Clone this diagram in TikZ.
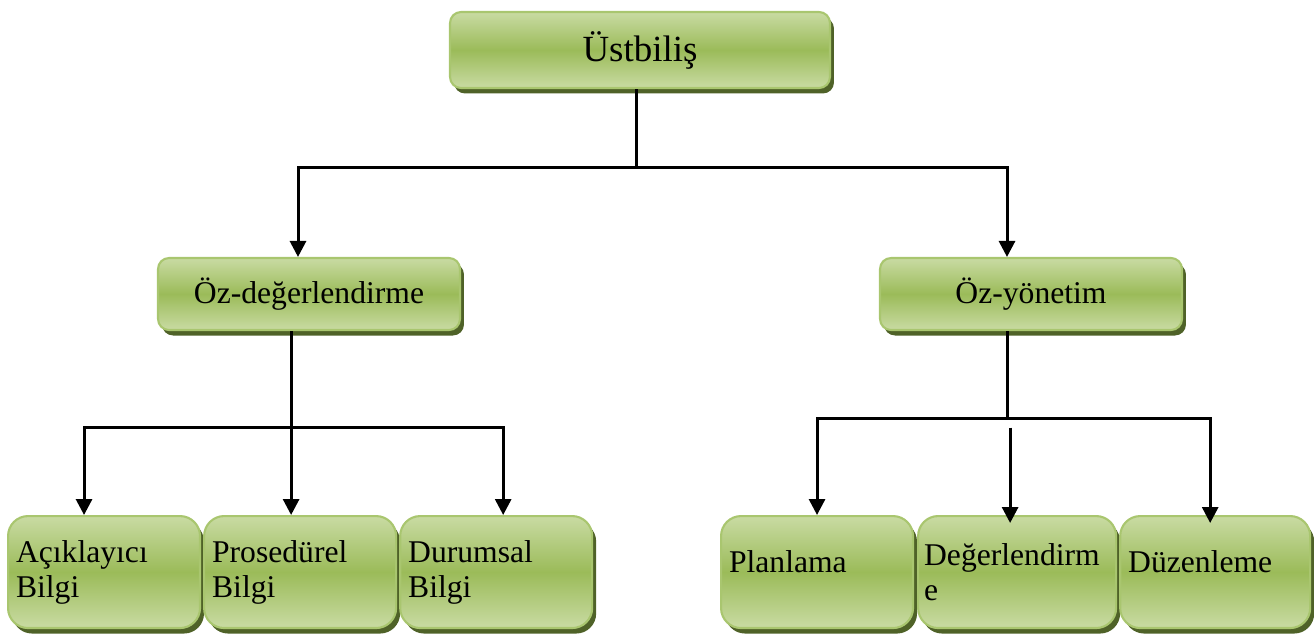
\documentclass[tikz,border=0pt]{standalone}
\usepackage{fontspec}
\setmainfont{Liberation Serif}
\usetikzlibrary{positioning, arrows.meta, shadows}
\definecolor{leafgreen}{HTML}{9BBB59}
\definecolor{paleleaf}{HTML}{C9DBA3}
\definecolor{darkleaf}{HTML}{4F6228}
\definecolor{edgeleaf}{HTML}{A9C66F}
\tikzset{
    base/.style={draw=edgeleaf, line width=1.2pt, top color=paleleaf, bottom color=paleleaf, middle color=leafgreen,
        drop shadow={shadow xshift=0.08cm, shadow yshift=-0.11cm, fill=darkleaf, opacity=1}},
    box/.style={base, rectangle, rounded corners=0.22cm, align=center, font=\fontsize{18}{21}\selectfont},
    topbox/.style={box, minimum width=7.6cm, minimum height=1.52cm, font=\fontsize{21}{24}\selectfont},
    midbox/.style={box, minimum width=6.04cm, minimum height=1.44cm},
    leafbox/.style={base, rectangle, rounded corners=0.4cm, minimum height=2.24cm, text width=3.52cm, inner xsep=0.16cm, align=left, font=\fontsize{18}{20}\selectfont},
    arrow/.style={-{Triangle[width=0.32cm, length=0.32cm]}, line width=0.06cm},
    line/.style={draw, line width=0.06cm}
}

\begin{document}
\begin{tikzpicture}[x=0.02cm, y=-0.02cm]
    \useasboundingbox (0,0) rectangle (1314,633);

    % Top
    \node [topbox] (meta) at (640,50) {Üstbiliş};

    % Second level
    \node [midbox] (selfeval) at (309,294) {Öz-değerlendirme};
    \node [midbox] (selfmgmt) at (1031,294) {Öz-yönetim};

    % Leaves under Öz-değerlendirme
    \node [leafbox, anchor=north west] (decl) at (7,515) {Açıklayıcı\\Bilgi};
    \node [leafbox, right=0.04cm of decl] (proc) {Prosedürel\\Bilgi};
    \node [leafbox, right=0.04cm of proc] (sit) {Durumsal\\Bilgi};

    % Leaves under Öz-yönetim
    \node [leafbox, text depth=0.42cm, anchor=north west] (plan) at (720,515) {Planlama};
    \node [leafbox, text width=3.72cm, inner xsep=0.12cm, right=0.06cm of plan] (evalu) {Değerlendirm\\e};
    \node [leafbox, text depth=0.42cm, text width=3.48cm, right=0.04cm of evalu] (regul) {Düzenleme};

    % Bus points
    \coordinate (split) at (636,167);
    \coordinate (leftbar) at (0,427);
    \coordinate (rightbar) at (0,418);

    % Connections
    \draw [line] (meta.south -| split) -- (split);
    \draw [arrow] (split) -| ([xshift=-0.22cm]selfeval.north);
    \draw [arrow] (split) -| ([xshift=-0.48cm]selfmgmt.north);

    \draw [arrow] ([xshift=-0.18cm]proc.north |- selfeval.south) -- ([xshift=-0.18cm]proc.north);
    \draw [arrow] (leftbar -| proc) -| ([xshift=-0.4cm]decl.north);
    \draw [arrow] (leftbar -| proc) -| ([xshift=0.14cm]sit.north);

    \draw [line] ([xshift=-0.48cm]selfmgmt.south) -- ([xshift=-0.48cm]selfmgmt.south |- rightbar);
    \draw [arrow] ([xshift=-0.48cm]selfmgmt.south |- rightbar) -| (plan);
    \draw [arrow, shorten >=-0.16cm] ([xshift=-0.48cm]selfmgmt.south |- rightbar) -| ([xshift=-0.1cm]regul.north);
    \draw [arrow, shorten >=-0.16cm] ([xshift=-0.14cm, yshift=-5.5pt]evalu.north |- rightbar) -- ([xshift=-0.14cm]evalu.north);
\end{tikzpicture}
\end{document}
